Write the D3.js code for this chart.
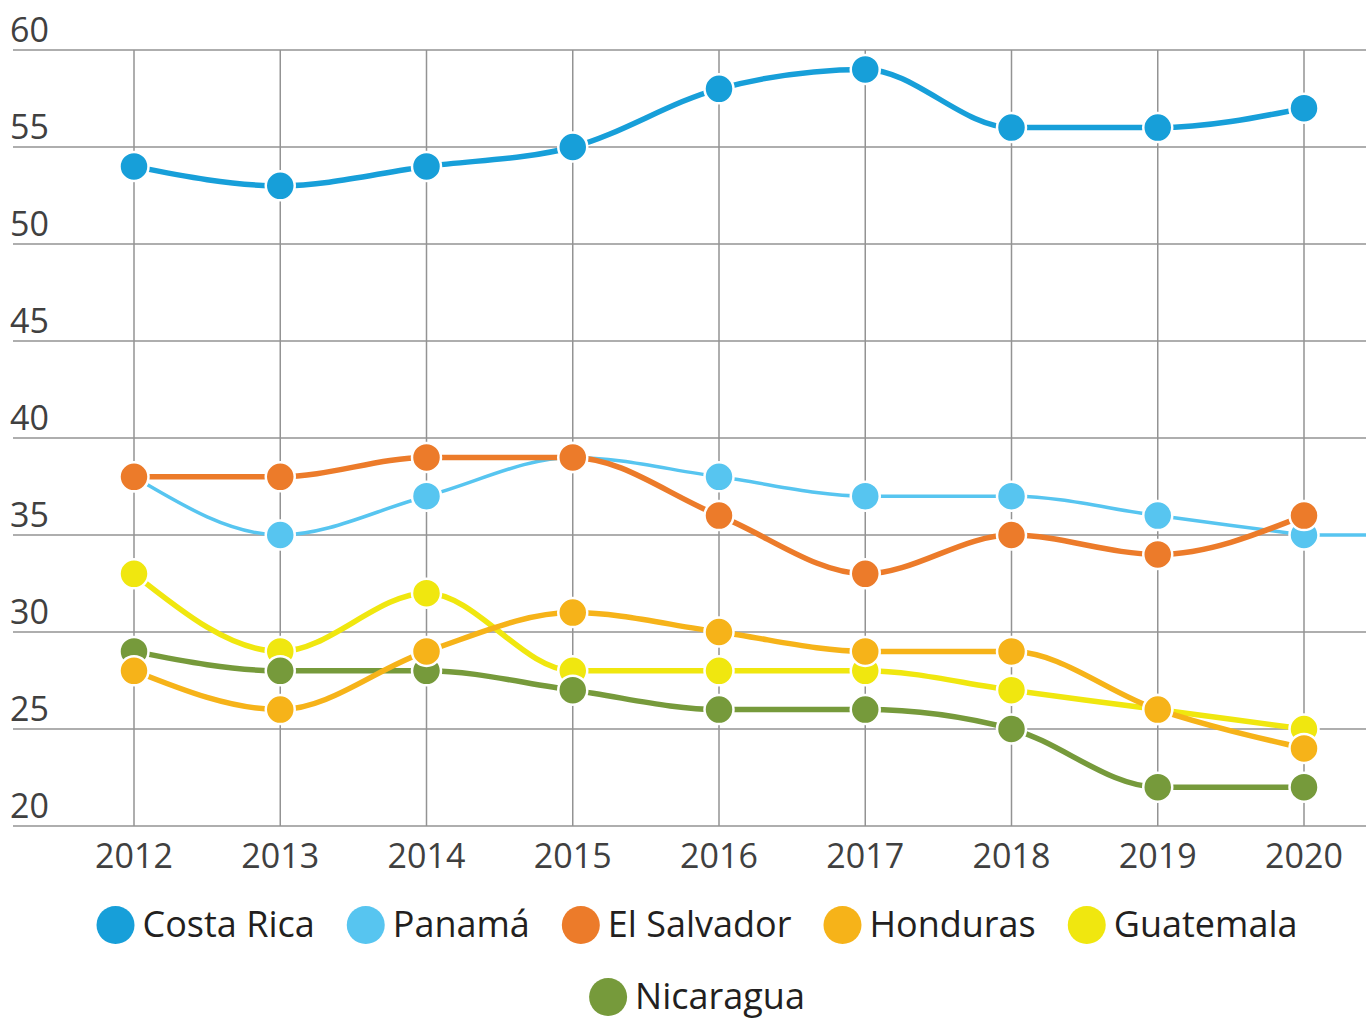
<!DOCTYPE html>
<html>
<head>
<meta charset="utf-8">
<script src="https://cdn.jsdelivr.net/npm/d3@7"></script>
<style>
  body { margin: 0; background: #fff; }
  svg { display: block; font-family: "Open Sans", sans-serif; }
  .grid line { stroke: #939393; stroke-width: 1.5; }
  .tick-label { fill: #404040; font-size: 34px; }
  .legend text { fill: #231f20; font-size: 36px; }
</style>
</head>
<body>
<script>
// data
const years = [2012, 2013, 2014, 2015, 2016, 2017, 2018, 2019, 2020];
const yTicks = [20, 25, 30, 35, 40, 45, 50, 55, 60];

const countries = ["Costa Rica", "Panamá", "El Salvador", "Honduras", "Guatemala", "Nicaragua"];
const colors = ["#179fd9", "#57c5f0", "#ec7b2a", "#f6b319", "#f0e70f", "#769a3b"];

const costaRica  = [54, 53, 54, 55, 58, 59, 56, 56, 57];
const panama     = [38, 35, 37, 39, 38, 37, 37, 36, 35];
const elSalvador = [38, 38, 39, 39, 36, 33, 35, 34, 36];
const honduras   = [28, 26, 29, 31, 30, 29, 29, 26, 24];
const guatemala  = [33, 29, 32, 28, 28, 28, 27, 26, 25];
const nicaragua  = [29, 28, 28, 27, 26, 26, 25, 22, 22];

const seriesValues = [costaRica, panama, elSalvador, honduras, guatemala, nicaragua];
// drawing order so that overlapping markers stack like the original
const drawOrder = [0, 1, 2, 4, 5, 3];

const margin = {top: 50, right: 0, bottom: 193, left: 13};
const width = 1366 - margin.left - margin.right;
const height = 1019 - margin.top - margin.bottom;

const root = d3.select("body").append("svg")
    .attr("width", 1366)
    .attr("height", 1019);

const svg = root.append("g")
    .attr("transform", `translate(${margin.left},${margin.top})`);

const x = d3.scalePoint().domain(years).range([121, 1291]);
const y = d3.scaleLinear().domain([20, 60]).range([height, 0]);

// gridlines
const grid = svg.append("g").attr("class", "grid");
grid.selectAll(".hline").data(yTicks)
  .enter().append("line")
    .attr("x1", 0).attr("x2", width)
    .attr("y1", d => y(d)).attr("y2", d => y(d));
grid.selectAll(".vline").data(years)
  .enter().append("line")
    .attr("x1", d => x(d)).attr("x2", d => x(d))
    .attr("y1", 0).attr("y2", height);

// y tick labels, sitting above their gridline
svg.append("g").selectAll("text").data(yTicks)
  .enter().append("text")
    .attr("class", "tick-label")
    .attr("x", -3)
    .attr("y", d => y(d) - 8)
    .text(d => d);

// x tick labels
svg.append("g").selectAll("text").data(years)
  .enter().append("text")
    .attr("class", "tick-label")
    .attr("text-anchor", "middle")
    .attr("x", d => x(d))
    .attr("y", height + 42)
    .text(d => d);

const line = d3.line()
    .x((d, i) => x(years[i]))
    .y(d => y(d))
    .curve(d3.curveMonotoneX);

const series = svg.append("g").selectAll(".series").data(drawOrder)
  .enter().append("g")
    .attr("class", "series");

// Panamá runs on flat past the last year to the edge
series.filter(k => k === 1).append("line")
    .attr("x1", x(years[years.length - 1])).attr("x2", width)
    .attr("y1", y(panama[panama.length - 1])).attr("y2", y(panama[panama.length - 1]))
    .attr("stroke", colors[1])
    .attr("stroke-width", 3.5);

series.append("path")
    .attr("d", k => line(seriesValues[k]))
    .attr("fill", "none")
    .attr("stroke", k => colors[k])
    .attr("stroke-width", k => k === 1 ? 3.5 : 5.5);

series.selectAll("circle")
    .data(k => seriesValues[k].map((v, i) => ({v, i, k})))
  .enter().append("circle")
    .attr("cx", d => x(years[d.i]))
    .attr("cy", d => y(d.v))
    .attr("r", 14.5)
    .attr("fill", d => colors[d.k])
    .attr("stroke", "#fff")
    .attr("stroke-width", 2.5);

// legend: two centred rows
const legendRows = [[0, 1, 2, 3, 4], [5]];
const rowY = [925, 997];
const legendCenter = 697;
const legend = root.append("g").attr("class", "legend");

legendRows.forEach((row, r) => {
  const items = row.map(k => {
    const g = legend.append("g");
    g.append("circle").attr("r", 19).attr("cx", 19).attr("fill", colors[k]);
    const t = g.append("text").attr("x", 46).attr("y", 12).text(countries[k]);
    return {g, w: 46 + t.node().getComputedTextLength()};
  });
  const gap = 32;
  const total = d3.sum(items, d => d.w) + gap * (items.length - 1);
  let cx = legendCenter - total / 2;
  items.forEach(it => {
    it.g.attr("transform", `translate(${cx},${rowY[r]})`);
    cx += it.w + gap;
  });
});
</script>
</body>
</html>
